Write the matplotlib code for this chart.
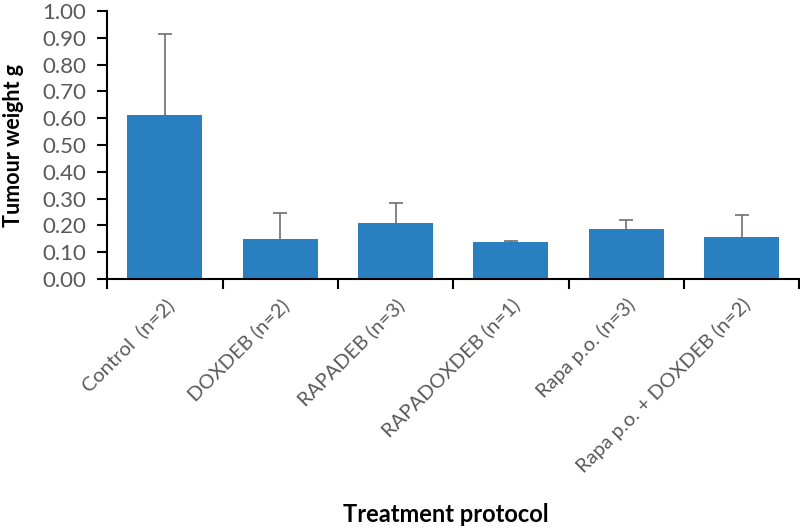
import matplotlib
matplotlib.use("Agg")
import matplotlib.pyplot as plt
import numpy as np

categories = ["Control  (n=2)", "DOXDEB (n=2)", "RAPADEB (n=3)", "RAPADOXDEB (n=1)",
              "Rapa p.o. (n=3)", "Rapa p.o. + DOXDEB (n=2)"]
means = [0.612, 0.148, 0.208, 0.139, 0.187, 0.156]
err_upper = [0.302, 0.097, 0.074, 0.004, 0.033, 0.082]
yticks = [0.0, 0.1, 0.2, 0.3, 0.4, 0.5, 0.6, 0.7, 0.8, 0.9, 1.0]

plt.rcParams['font.family'] = ['Lato', 'DejaVu Sans']

fig = plt.figure(figsize=(8, 5.28), dpi=100)
ax = fig.add_axes([0.134, 0.4716, 0.865, 0.5074])

x = np.arange(len(categories))
ax.bar(x, means, width=0.65, color='#2A7FC1', zorder=2)
eb = ax.errorbar(x, means, yerr=[np.zeros(len(means)), err_upper], fmt='none',
                 ecolor='#707070', elinewidth=1.2, capsize=5, capthick=1.2, zorder=1)
eb[1][0].set_visible(False)

ax.set_xlim(-0.5, len(categories) - 0.5)
ax.set_ylim(0, 1.0)
ax.set_yticks(yticks)
ax.set_yticklabels([f"{v:.2f}" for v in yticks], fontsize=16, color='#595959')

ax.set_xticks(x)
ax.set_xticklabels(categories, rotation=45, ha='right', rotation_mode='anchor',
                   fontsize=14.5, color='#595959')
ax.tick_params(axis='x', which='major', length=0, pad=12)
ax.set_xticks(np.arange(-0.5, len(categories), 1.0), minor=True)
ax.tick_params(axis='x', which='minor', length=7, width=1.5, direction='out', color='black')
ax.tick_params(axis='y', length=7, width=1.5, direction='out', color='black', pad=8)

for s in ['top', 'right']:
    ax.spines[s].set_visible(False)
for s in ['left', 'bottom']:
    ax.spines[s].set_linewidth(1.5)
    ax.spines[s].set_color('black')

ax.set_ylabel("Tumour weight g", fontsize=15.5, fontweight='bold')
ax.yaxis.set_label_coords(-0.12, 0.5)
ax.set_xlabel("Treatment protocol", fontsize=17, fontweight='bold')
ax.xaxis.set_label_coords(0.49, -0.835)

fig.savefig("out.png", dpi=100)
